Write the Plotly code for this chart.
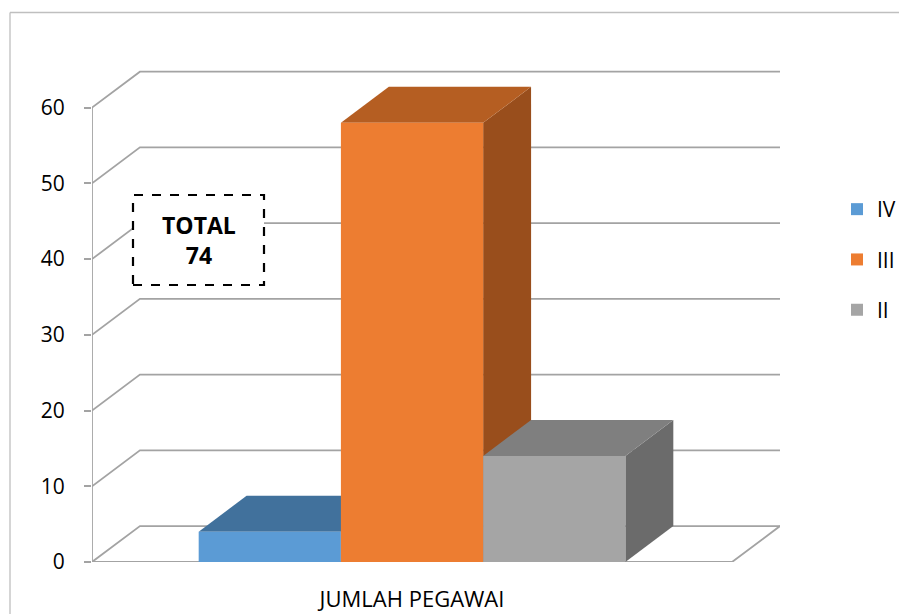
import plotly.graph_objects as go

# ---- data ----
series = ["IV", "III", "II"]
values = [4, 58, 14]
category = "JUMLAH PEGAWAI"
y_ticks = [0, 10, 20, 30, 40, 50, 60]
total_label = "TOTAL<br>74"

front_colors = ["#5B9BD5", "#ED7D31", "#A5A5A5"]
top_colors = ["#41719C", "#B55E22", "#7F7F7F"]
side_colors = ["#3A6690", "#994E1C", "#6B6B6B"]

# ---- geometry (styling) ----
W, H = 907, 614
OFF = 8               # page body margin in the viewer
ML = 92 - OFF
MT = 66 - OFF
MR = W - (780 - OFF)
MB = H - (562 - OFF)
gap = 0.75            # half gap on each side of the cluster (bar widths)
bar_w = 1.0
dx = 0.337            # depth offset along x (bar-width units)
dy = 4.75             # depth offset along y (value units)
y_max = 65.5

n = len(values)
cat_span = 2 * gap + n * bar_w
centers = [gap + bar_w * (i + 0.5) for i in range(n)]
x_max = cat_span + dx

pw = W - ML - MR
ph = H - MT - MB
def px_x(p):  # screen pixel -> paper x
    return (p - OFF - ML) / pw
def px_y(p):  # screen pixel -> paper y
    return (H - MB - (p - OFF)) / ph

grid_col = "#A3A3A3"
shapes = []

# back wall / left wall gridlines
for v in y_ticks:
    shapes.append(dict(type="path", layer="below", xref="x", yref="y",
                       path=f"M 0,{v} L {dx},{v+dy} L {x_max},{v+dy}",
                       line=dict(color=grid_col, width=1.8)))
# floor front edge and right diagonal
shapes.append(dict(type="path", layer="below", xref="x", yref="y",
                   path=f"M 0,0 L {cat_span},0 L {cat_span+dx},{dy}",
                   line=dict(color=grid_col, width=1.8)))
# front y axis line
shapes.append(dict(type="line", layer="below", xref="x", yref="y",
                   x0=0, x1=0, y0=0, y1=y_ticks[-1],
                   line=dict(color=grid_col, width=1.8)))
# x ticks at category boundaries
for xv in [0, cat_span]:
    shapes.append(dict(type="line", layer="below", xref="x", yref="y",
                       ysizemode="pixel", yanchor=0, x0=xv, x1=xv, y0=0, y1=-8,
                       line=dict(color=grid_col, width=1.8)))

# 3D faces of bars
for i, v in enumerate(values):
    x0 = centers[i] - bar_w / 2
    x1 = centers[i] + bar_w / 2
    shapes.append(dict(type="path", layer="below", xref="x", yref="y",
                       path=f"M {x1},0 L {x1},{v} L {x1+dx},{v+dy} L {x1+dx},{dy} Z",
                       fillcolor=side_colors[i], line=dict(width=0)))
    shapes.append(dict(type="path", layer="below", xref="x", yref="y",
                       path=f"M {x0},{v} L {x1},{v} L {x1+dx},{v+dy} L {x0+dx},{v+dy} Z",
                       fillcolor=top_colors[i], line=dict(width=0)))

# outer chart border (left and top)
shapes.append(dict(type="line", xref="paper", yref="paper",
                   x0=px_x(10), x1=px_x(10), y0=px_y(12.5), y1=px_y(640),
                   line=dict(color="#BFBFBF", width=1.3)))
shapes.append(dict(type="line", xref="paper", yref="paper",
                   x0=px_x(10), x1=px_x(930), y0=px_y(12.5), y1=px_y(12.5),
                   line=dict(color="#BFBFBF", width=1.3)))
# dashed total box
shapes.append(dict(type="rect", xref="paper", yref="paper",
                   x0=px_x(133), x1=px_x(264), y0=px_y(285), y1=px_y(195),
                   line=dict(color="black", width=2.2, dash="dash"),
                   fillcolor="white"))

fig = go.Figure()
for i, s in enumerate(series):
    fig.add_trace(go.Bar(x=[centers[i]], y=[values[i]], width=bar_w, name=s,
                         marker=dict(color=front_colors[i], line=dict(width=0)),
                         legendgroup=s, hoverinfo="skip"))

font = "Open Sans, Lato, sans-serif"
fig.update_layout(
    width=W, height=H,
    margin=dict(l=ML, r=MR, t=MT, b=MB, autoexpand=False),
    paper_bgcolor="white", plot_bgcolor="white",
    barmode="overlay",
    shapes=shapes,
    font=dict(family=font, color="black", size=21),
    xaxis=dict(range=[0, x_max], showgrid=False, zeroline=False, showline=False,
               tickvals=[cat_span / 2], ticktext=[category], ticks="",
               tickfont=dict(size=22), ticklabelstandoff=22, automargin=False,
               fixedrange=True),
    yaxis=dict(range=[0, y_max], showgrid=False, zeroline=False, showline=False,
               tickvals=y_ticks, ticks="outside", ticklen=7, tickwidth=1.8,
               tickcolor=grid_col, tickfont=dict(size=21),
               ticklabelstandoff=15, automargin=False, fixedrange=True),
    legend=dict(x=px_x(837), xanchor="left", y=px_y(189), yanchor="top",
                font=dict(size=21), tracegroupgap=20, traceorder="grouped",
                bgcolor="rgba(0,0,0,0)"),
    annotations=[dict(xref="paper", yref="paper", x=px_x(198.5), y=px_y(240),
                      xanchor="center", yanchor="middle",
                      text=f"<b>{total_label}</b>", showarrow=False,
                      font=dict(size=23, color="black"), align="center")],
    hovermode=False,
)

fig.write_html("out.html", config={"displayModeBar": False})
